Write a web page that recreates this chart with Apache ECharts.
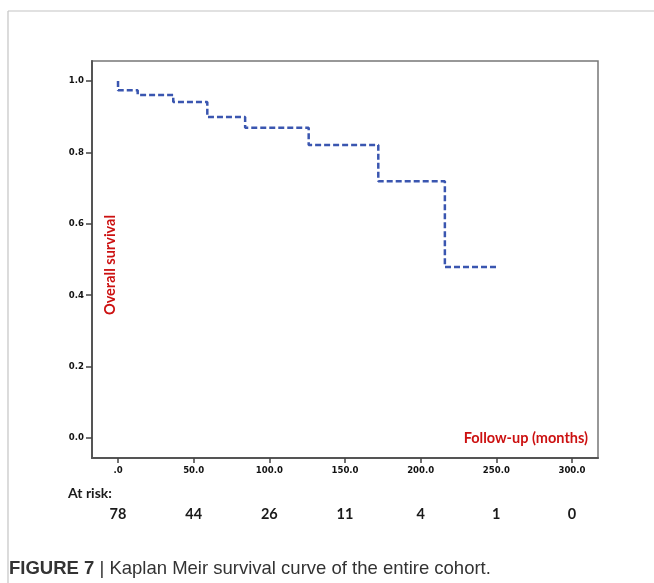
<!DOCTYPE html>
<html><head><meta charset="utf-8">
<script src="https://cdn.jsdelivr.net/npm/echarts@6/dist/echarts.min.js"></script>
<style>html,body{margin:0;padding:0;background:#fff}#c{width:654px;height:583px}</style>
</head><body><div id="c"></div>
<script>
const months   = [0, 0, 13, 36.5, 59, 84, 126, 172, 216, 251];
const survival = [1.0, 0.974, 0.961, 0.941, 0.899, 0.869, 0.821, 0.719, 0.479, 0.479];
const xTicks = [0, 50, 100, 150, 200, 250, 300];
const xTickLabels = ['.0', '50.0', '100.0', '150.0', '200.0', '250.0', '300.0'];
const yTicks = [0, 0.2, 0.4, 0.6, 0.8, 1.0];
const yTickLabels = ['0.0', '0.2', '0.4', '0.6', '0.8', '1.0'];
const atRisk = [78, 44, 26, 11, 4, 1, 0];

const chart = echarts.init(document.getElementById('c'), null, {renderer: 'canvas'});
const tickFont = {fontFamily: 'Liberation Sans Narrow, DejaVu Sans Condensed, Arial Narrow, sans-serif', fontWeight: 'bold', fontSize: 9.5, color: '#111'};
chart.setOption({
  animation: false,
  backgroundColor: '#fff',
  grid: {left: 92, top: 61, width: 506, height: 397, show: true, borderColor: '#777', borderWidth: 1.5, backgroundColor: '#fff'},
  xAxis: [{
    type: 'value', min: -17.2, max: 317.2, position: 'bottom',
    axisLine: {show: true, onZero: false, lineStyle: {color: '#555', width: 2}},
    axisTick: {show: true, length: 5, customValues: xTicks, lineStyle: {color: '#444', width: 1.5}},
    axisLabel: Object.assign({customValues: xTicks, margin: 8,
      formatter: v => xTickLabels[xTicks.indexOf(v)]}, tickFont),
    splitLine: {show: false}
  }, {
    type: 'value', min: -17.2, max: 317.2, position: 'bottom',
    axisLine: {show: false}, axisTick: {show: false}, splitLine: {show: false},
    axisLabel: {customValues: xTicks, margin: 49, fontFamily: 'Lato, Open Sans, sans-serif', fontWeight: 'bold', fontSize: 14.5, color: '#1a1a1a',
      formatter: v => String(atRisk[xTicks.indexOf(v)])}
  }],
  yAxis: {
    type: 'value', min: -0.056, max: 1.056,
    axisLine: {show: true, onZero: false, lineStyle: {color: '#555', width: 2}},
    axisTick: {show: true, length: 6, customValues: yTicks, lineStyle: {color: '#444', width: 1.5}},
    axisLabel: Object.assign({customValues: yTicks, margin: 8,
      formatter: v => yTickLabels[yTicks.indexOf(Math.round(v * 10) / 10)]}, tickFont),
    splitLine: {show: false}
  },
  series: [{
    type: 'line', step: 'end', symbol: 'none', xAxisIndex: 0,
    data: months.map((m, i) => [m, survival[i]]),
    lineStyle: {color: '#3a56b0', width: 2.5, type: [6, 3]}
  }],
  graphic: [
    {type: 'line', shape: {x1: 8, y1: 11, x2: 654, y2: 11}, style: {stroke: '#c4c4c4', lineWidth: 1.2}},
    {type: 'line', shape: {x1: 8, y1: 11, x2: 8, y2: 583}, style: {stroke: '#c4c4c4', lineWidth: 1.2}},
    {type: 'text', x: 110, y: 265, rotation: Math.PI / 2,
      style: {text: 'Overall survival', fill: '#cc1111', font: 'bold 14.5px Lato, "Open Sans", sans-serif', align: 'center', verticalAlign: 'middle'}},
    {type: 'text', right: 66, top: 431, style: {text: 'Follow-up (months)', fill: '#cc1111', font: 'bold 14.5px Lato, "Open Sans", sans-serif'}},
    {type: 'text', left: 68, top: 486, style: {text: 'At risk:', fill: '#1a1a1a', font: 'bold 14px Lato, "Open Sans", sans-serif'}},
    {type: 'text', left: 9, top: 559, style: {
      text: '{b|FIGURE 7} | Kaplan Meir survival curve of the entire cohort.',
      rich: {b: {fontWeight: 'bold', fontSize: 18.5, fontFamily: 'Liberation Sans, Arial, sans-serif', fill: '#333'}},
      font: '18.5px "Liberation Sans", Arial, sans-serif', fill: '#333'}}
  ]
});
</script></body></html>
